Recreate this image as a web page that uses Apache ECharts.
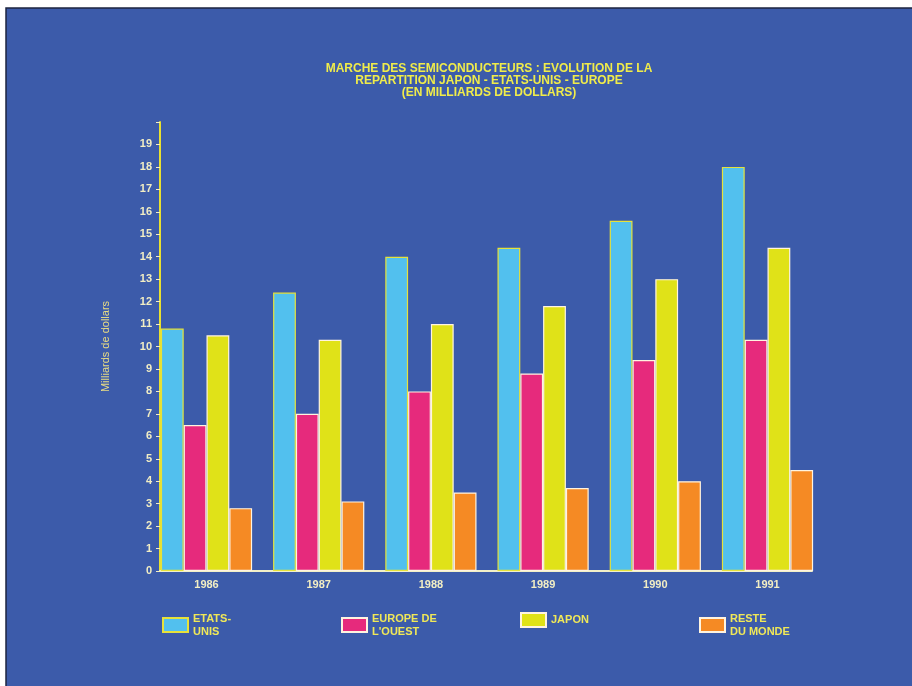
<!DOCTYPE html>
<html><head><meta charset="utf-8">
<script src="https://cdn.jsdelivr.net/npm/echarts@6/dist/echarts.min.js"></script>
<style>html,body{margin:0;padding:0;background:#fff}#c{width:912px;height:686px}</style>
</head><body><div id="c"></div>
<script>
const categories = ['1986','1987','1988','1989','1990','1991'];
const etatsUnis = [10.8, 12.4, 14.0, 14.4, 15.6, 18.0];
const europe   = [6.5, 7.0, 8.0, 8.8, 9.4, 10.3];
const japon    = [10.5, 10.3, 11.0, 11.8, 13.0, 14.4];
const reste    = [2.8, 3.1, 3.5, 3.7, 4.0, 4.5];
const seriesNames = ['ETATS-UNIS', "EUROPE DE L'OUEST", 'JAPON', 'RESTE DU MONDE'];
const legendLabels = ['ETATS-\nUNIS', "EUROPE DE\nL'OUEST", 'JAPON', 'RESTE\nDU MONDE'];
const yTicks = [0,1,2,3,4,5,6,7,8,9,10,11,12,13,14,15,16,17,18,19];
const titleLines = ['MARCHE DES SEMICONDUCTEURS : EVOLUTION DE LA', 'REPARTITION JAPON - ETATS-UNIS - EUROPE', '(EN MILLIARDS DE DOLLARS)'];

const colors = ['#52c0ee', '#e62a7c', '#e0e218', '#f58a24'];
const borders = ['#e6e23a', '#fff4e0', '#fff4e0', '#fff4e0'];
const values = [etatsUnis, europe, japon, reste];
const font = '"Liberation Sans", Arial, sans-serif';
const cream = '#f2eec4';

const chart = echarts.init(document.getElementById('c'));
const legendLefts = [162, 341, 520, 699];
chart.setOption({
  backgroundColor: '#ffffff',
  animation: false,
  graphic: [{
    type: 'rect', z: -10, silent: true,
    shape: {x: 6, y: 8, width: 912, height: 686},
    style: {fill: '#3c5baa', stroke: '#1c2440', lineWidth: 1.5}
  }],
  title: {
    text: titleLines.join('\n'),
    left: 484, top: 58, textAlign: 'center',
    textStyle: {color: '#f0ec4a', fontFamily: font, fontWeight: 'bold', fontSize: 12, lineHeight: 12}
  },
  legend: seriesNames.map((n, i) => ({
    data: [n], left: legendLefts[i], top: 612, padding: 0,
    icon: 'rect', itemWidth: 25, itemHeight: 14,
    formatter: () => legendLabels[i],
    textStyle: {color: '#f0e858', fontFamily: font, fontWeight: 'bold', fontSize: 11, lineHeight: 13},
    selectedMode: false
  })),
  grid: [
    {left: 160, width: 652, top: 122, bottom: 115},
    {left: 150.4, width: 673.2, top: 122, bottom: 115}
  ],
  xAxis: [
    {type: 'value', gridIndex: 0, min: 0, max: 1,
     axisLine: {show: true, lineStyle: {color: '#f2f0c8', width: 2}},
     axisTick: {show: false}, axisLabel: {show: false}, splitLine: {show: false}},
    {type: 'category', gridIndex: 1, data: categories,
     axisLine: {show: false}, axisTick: {show: false},
     axisLabel: {color: cream, fontFamily: font, fontWeight: 'bold', fontSize: 11, margin: 8}}
  ],
  yAxis: [
    {type: 'value', gridIndex: 0, min: 0, max: 20, interval: 1,
     name: 'Milliards de dollars', nameLocation: 'middle', nameGap: 49,
     nameTextStyle: {color: '#e8dc84', fontFamily: font, fontSize: 11},
     axisLine: {show: true, lineStyle: {color: '#e8e030', width: 2}},
     axisTick: {show: true, length: 4, lineStyle: {color: cream}},
     axisLabel: {color: cream, fontFamily: font, fontWeight: 'bold', fontSize: 11, margin: 8,
       formatter: v => (yTicks.indexOf(v) >= 0 ? String(v) : '')},
     splitLine: {show: false}},
    {type: 'value', gridIndex: 1, min: 0, max: 20, show: false, splitLine: {show: false}}
  ],
  series: seriesNames.map((n, i) => ({
    name: n, type: 'bar', xAxisIndex: 1, yAxisIndex: 1,
    data: values[i], barGap: '0%', barCategoryGap: '18.7%',
    itemStyle: {color: colors[i], borderColor: borders[i], borderWidth: 1.2}
  }))
});
</script></body></html>
